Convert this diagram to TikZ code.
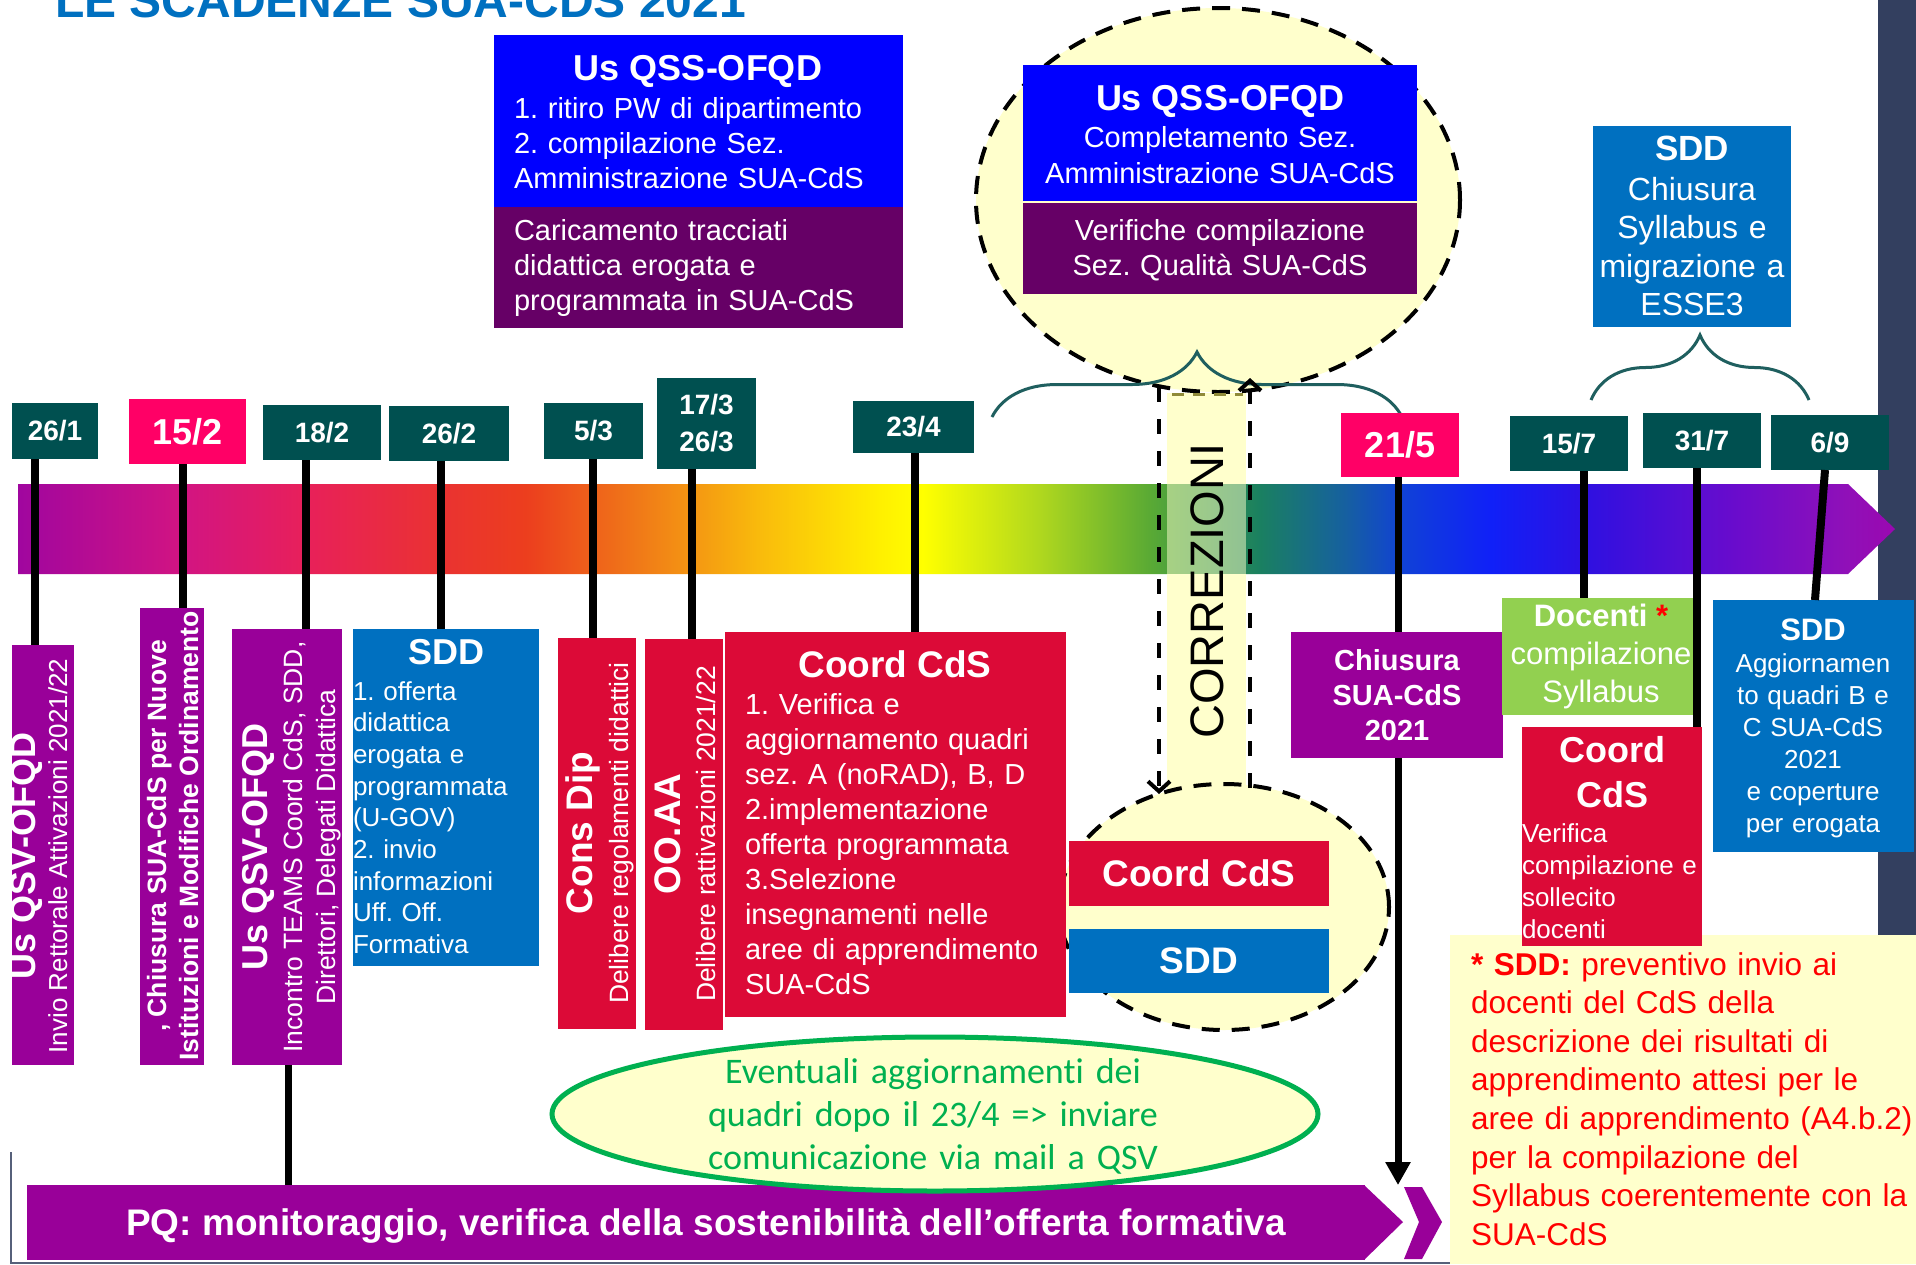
\documentclass[tikz,border=0pt]{standalone}
\usepackage{fontspec}
\setmainfont{Liberation Sans}
\newfontfamily\calfont[Ligatures=NoCommon]{Carlito}
\usetikzlibrary{decorations.pathreplacing,arrows.meta,shapes.geometric}
\newcommand\setfz[2]{\fontsize{#1pt}{#2pt}\selectfont}
\frenchspacing
\definecolor{qblue}{HTML}{0000FF}
\definecolor{qpurp}{HTML}{660066}
\definecolor{sddblue}{HTML}{0070C0}
\definecolor{dteal}{HTML}{005050}
\definecolor{hotpink}{HTML}{FF0066}
\definecolor{vpurp}{HTML}{990099}
\definecolor{crim}{HTML}{DC0A37}
\definecolor{lgreen}{HTML}{92D050}
\definecolor{pyellow}{HTML}{FFFFCC}
\definecolor{navy}{HTML}{333F5F}
\definecolor{braceteal}{HTML}{1F5F5F}
\definecolor{egreen}{HTML}{00B050}
\definecolor{titleblue}{HTML}{0070C0}
\definecolor{slateline}{HTML}{56607A}
\definecolor{g0}{HTML}{A0069F}
\definecolor{g1}{HTML}{D21482}
\definecolor{g2}{HTML}{E8205A}
\definecolor{g3}{HTML}{EA3232}
\definecolor{g4}{HTML}{EC3E1E}
\definecolor{g5}{HTML}{F07818}
\definecolor{g6}{HTML}{F9BA0C}
\definecolor{g7}{HTML}{FFF000}
\definecolor{g8}{HTML}{FFFF00}
\definecolor{g9}{HTML}{B0D81E}
\definecolor{g10}{HTML}{5AAA34}
\definecolor{g11}{HTML}{1A8060}
\definecolor{g12}{HTML}{1660A0}
\definecolor{g13}{HTML}{1040D8}
\definecolor{g14}{HTML}{1020F8}
\definecolor{g15}{HTML}{3010E0}
\definecolor{g16}{HTML}{6A0CCC}
\definecolor{g17}{HTML}{9010B8}
\definecolor{g18}{HTML}{9A08B0}
\pgfdeclarehorizontalshading{rainbowbar}{100bp}{color(0bp)=(g0); color(25bp)=(g0); color(29.40bp)=(g1); color(32.67bp)=(g2); color(36.24bp)=(g3); color(38.53bp)=(g4); color(41.46bp)=(g5); color(44.71bp)=(g6); color(47.96bp)=(g7); color(49.11bp)=(g8); color(52.20bp)=(g9); color(55.13bp)=(g10); color(58.06bp)=(g11); color(60.35bp)=(g12); color(61.97bp)=(g13); color(64.24bp)=(g14); color(66.85bp)=(g15); color(70.77bp)=(g16); color(73.70bp)=(g17); color(75bp)=(g18); color(100bp)=(g18)}
\begin{document}
\begin{tikzpicture}[x=1pt,y=-1pt,
  rbox/.style={inner sep=0pt, outer sep=0pt, anchor=north west},
  wtxt/.style={inner sep=0pt, outer sep=0pt, text=white},
  vtxt/.style={wtxt, rotate=90, anchor=base},
  stem/.style={line width=8pt, draw=black},
  dline/.style={line width=4pt, dash pattern=on 15pt off 17pt},
  bracest/.style={draw=braceteal, line width=3pt, decorate, decoration={brace, amplitude=65pt}},
  dbox/.style={rbox, fill=dteal, text=white, font=\bfseries\setfz{28}{37}, align=center},
  dashell/.style={ellipse, draw=black, line width=4pt, dash pattern=on 18pt off 12pt, fill=pyellow, inner sep=0pt}
]
\useasboundingbox (0,0) rectangle (1916,1264);
\clip (0,0) rectangle (1916,1264);
\fill[white] (0,0) rectangle (1916,1264);

% title
\node[anchor=base west, inner sep=0pt, text=titleblue, font=\bfseries\setfz{48}{48}] (title) at (55,17) {LE SCADENZE SUA-CDS 2021};

% navy strip
\fill[navy] (1878,0) rectangle (1916,935);

% timeline bar
\shade[shading=rainbowbar] (18,484) -- (1848,484) -- (1895,529) -- (1848,574) -- (18,574) -- cycle;

% CORREZIONI strip
\fill[pyellow] (1167,393) rectangle (1246,484);
\fill[pyellow, fill opacity=0.5] (1167,484) rectangle (1246,574);
\fill[pyellow] (1167,574) rectangle (1246,790);

% top left box
\node[rbox, fill=qblue, minimum width=409pt, minimum height=172pt] (tb1) at (494,35) {};
\node[rbox, fill=qpurp, minimum width=409pt, minimum height=121pt] (tb2) at (494,207) {};
\node[wtxt, anchor=base, font=\bfseries\setfz{36}{36}] (tb1h) at (698,80) {Us QSS-OFQD};
\node[wtxt, anchor=base west, text width=385pt, align=left, font=\setfz{29}{35}] (tb1t) at (514,118) {1. ritiro PW di dipartimento\\2. compilazione Sez.\\Amministrazione SUA-CdS};
\node[wtxt, anchor=base west, text width=385pt, align=left, font=\setfz{29}{35}] (tb2t) at (514,240) {Caricamento tracciati\\didattica erogata e\\programmata in SUA-CdS};

% top ellipse
\node[dashell, minimum width=484pt, minimum height=384pt] (e1) at (1218,200) {};
\node[rbox, fill=qblue, minimum width=394pt, minimum height=136pt] (mb1) at (1023,65) {};
\node[rbox, fill=qpurp, minimum width=394pt, minimum height=91pt] (mb2) at (1023,203) {};
\node[wtxt, anchor=base, font=\bfseries\setfz{36}{36}] (mb1h) at (1220,110) {Us QSS-OFQD};
\node[wtxt, anchor=base, text width=390pt, align=center, font=\setfz{29}{36}] (mb1t) at (1220,147) {Completamento Sez.\\Amministrazione SUA-CdS};
\node[wtxt, anchor=base, text width=390pt, align=center, font=\setfz{29}{35}] (mb2t) at (1220,240) {Verifiche compilazione\\Sez. Qualità SUA-CdS};

% braces
\draw[bracest] (992,417) -- (1402,417);
\draw[bracest] (1591,400) -- (1809,400);

% SDD top right
\node[rbox, fill=sddblue, minimum width=198pt, minimum height=201pt] (sddT) at (1593,126) {};
\node[wtxt, anchor=base, font=\bfseries\setfz{35}{35}] (sddTh) at (1692,160) {SDD};
\node[wtxt, anchor=base, text width=198pt, align=center, font=\setfz{32}{38.5}] (sddTt) at (1692,200) {Chiusura\\Syllabus e\\migrazione a\\ESSE3};

% PQ bar
\node[rbox, fill=vpurp, minimum width=1338pt, minimum height=75pt] (pqbar) at (27,1185) {};
\fill[vpurp] (1364,1185) -- (1403,1222) -- (1364,1260) -- cycle;
\fill[vpurp] (1404,1187) -- (1422,1187) -- (1442,1222) -- (1422,1259) -- (1404,1259) -- (1419,1222) -- cycle;
\node[wtxt, anchor=base, font=\bfseries\setfz{37}{37}] (pqt) at (706,1235) {PQ: monitoraggio, verifica della sostenibilità dell’offerta formativa};

% date boxes
\node[dbox, minimum width=86pt, minimum height=56pt] (d261) at (12,403) {26/1};
\node[dbox, fill=hotpink, font=\bfseries\setfz{36}{36}, minimum width=117pt, minimum height=65pt] (d152) at (129,399) {15/2};
\node[dbox, minimum width=118pt, minimum height=55pt] (d182) at (263,405) {18/2};
\node[dbox, minimum width=120pt, minimum height=55pt] (d262) at (389,406) {26/2};
\node[dbox, minimum width=99pt, minimum height=56pt] (d53) at (544,403) {5/3};
\node[dbox, minimum width=99pt, minimum height=91pt] (d173) at (657,378) {17/3\\26/3};
\node[dbox, minimum width=121pt, minimum height=52pt] (d234) at (853,401) {23/4};
\node[dbox, fill=hotpink, font=\bfseries\setfz{36}{36}, minimum width=118pt, minimum height=64pt] (d215) at (1341,413) {21/5};
\node[dbox, minimum width=118pt, minimum height=55pt] (d157) at (1510,416) {15/7};
\node[dbox, minimum width=118pt, minimum height=55pt] (d317) at (1643,413) {31/7};
\node[dbox, minimum width=118pt, minimum height=55pt] (d69) at (1771,415) {6/9};

% bottom ellipse with boxes
\node[dashell, minimum width=330pt, minimum height=246pt] (e2) at (1224,907) {};
\node[rbox, fill=crim, minimum width=260pt, minimum height=65pt, text=white, font=\bfseries\setfz{37}{37}] (cc2) at (1069,841) {Coord CdS};
\node[rbox, fill=sddblue, minimum width=260pt, minimum height=64pt, text=white, font=\bfseries\setfz{37}{37}] (sdd2) at (1069,929) {SDD};

% CORREZIONI connectors
\coordinate (cTopL) at (1159,387);
\coordinate (cBotL) at (1159,794);
\coordinate (cTopR) at (1250,378);
\coordinate (cBotR) at (1250,788);
\draw[line width=3pt, draw=olive!60!gray, dash pattern=on 12pt off 9pt] (1172,394) -- (1243,394);
\draw[dline, -{Straight Barb[length=10pt,width=22pt,line width=4pt]}] (cTopL) -- (cBotL);
\draw[dline, -{Straight Barb[length=10pt,width=22pt,line width=4pt]}] (cBotR) -- (cTopR);
\node[rotate=90, anchor=base, inner sep=0pt, font=\setfz{47}{47}] (corr) at (1223,591) {CORREZIONI};

% 21/5 long arrow
\draw[line width=7pt, -{Triangle[length=23pt,width=24pt]}] (d215.south -| 1398,0) -- (pqbar.north -| 1398,0);

% yellow note box
\node[rbox, fill=pyellow, minimum width=466pt, minimum height=329pt] (note) at (1450,935) {};

% activity boxes
\node[rbox, fill=vpurp, minimum width=62pt, minimum height=420pt] (b1) at (12,645) {};
\node[vtxt, font=\bfseries\setfz{36}{36}] (b1h) at (35,856) {Us QSV-OFQD};
\node[vtxt, font=\setfz{26}{26}] (b1t) at (67,856) {Invio Rettorale Attivazioni 2021/22};

\node[rbox, fill=vpurp, minimum width=64pt, minimum height=457pt] (b2) at (140,608) {};
\node[vtxt, font=\bfseries\setfz{26.5}{26.5}] (b2a) at (166,836) {, Chiusura SUA-CdS per Nuove};
\node[vtxt, font=\bfseries\setfz{26.5}{26.5}] (b2b) at (198,836) {Istituzioni e Modifiche Ordinamento};

\node[rbox, fill=vpurp, minimum width=110pt, minimum height=436pt] (b3) at (232,629) {};
\node[vtxt, font=\bfseries\setfz{36}{36}] (b3h) at (267,847) {Us QSV-OFQD};
\node[vtxt, font=\setfz{26.5}{26.5}] (b3a) at (302,847) {Incontro TEAMS Coord CdS, SDD,};
\node[vtxt, font=\setfz{26.5}{26.5}] (b3b) at (335,847) {Direttori, Delegati Didattica};

\node[rbox, fill=sddblue, minimum width=186pt, minimum height=337pt] (sddL) at (353,629) {};
\node[wtxt, anchor=base, font=\bfseries\setfz{36}{36}] (sddLh) at (446,664) {SDD};
\node[wtxt, anchor=base west, text width=200pt, align=left, font=\setfz{26}{31.7}] (sddLt) at (353,700) {1. offerta\\didattica\\erogata e\\programmata\\(U-GOV)\\2. invio\\informazioni\\Uff. Off.\\Formativa};

\node[rbox, fill=crim, minimum width=78pt, minimum height=391pt] (cons) at (558,638) {};
\node[vtxt, font=\bfseries\setfz{37}{37}] (consh) at (592,833) {Cons Dip};
\node[vtxt, font=\setfz{26.5}{26.5}] (const) at (628,833) {Delibere regolamenti didattici};

\node[rbox, fill=crim, minimum width=78pt, minimum height=391pt] (ooaa) at (645,639) {};
\node[vtxt, font=\bfseries\setfz{37}{37}] (ooaah) at (680,834) {OO.AA};
\node[vtxt, font=\setfz{26.5}{26.5}] (ooaat) at (715,834) {Delibere rattivazioni 2021/22};

\node[rbox, fill=crim, minimum width=341pt, minimum height=385pt] (coordA) at (725,632) {};
\node[wtxt, anchor=base, font=\bfseries\setfz{37}{37}] (coordAh) at (895,677) {Coord CdS};
\node[wtxt, anchor=base west, text width=320pt, align=left, font=\setfz{29}{35.1}] (coordAt) at (745,714) {1. Verifica e\\aggiornamento quadri\\sez. A (noRAD), B, D\\2.implementazione\\offerta programmata\\3.Selezione\\insegnamenti nelle\\aree di apprendimento\\SUA-CdS};

\node[rbox, fill=vpurp, minimum width=212pt, minimum height=126pt, text=white, align=center, font=\bfseries\setfz{29}{35}] (chi) at (1291,632) {Chiusura\\SUA-CdS\\2021};

\node[rbox, fill=lgreen, minimum width=198pt, minimum height=117pt, text=white, align=center, font=\setfz{31}{38}] (doc) at (1502,598) {{\bfseries Docenti \textcolor{red}{*}}\\compilazione\\Syllabus};

\node[rbox, fill=crim, minimum width=180pt, minimum height=219pt] (coordB) at (1522,727) {};
\node[wtxt, anchor=base, text width=180pt, align=center, font=\bfseries\setfz{36}{45}] (coordBh) at (1612,762) {Coord\\CdS};
\node[wtxt, anchor=base west, text width=220pt, align=left, font=\setfz{26}{32.3}] (coordBt) at (1522,842) {Verifica\\compilazione e\\sollecito\\docenti};

\node[rbox, fill=sddblue, minimum width=201pt, minimum height=252pt] (sddR) at (1713,600) {};
\node[wtxt, anchor=base, font=\bfseries\setfz{31}{31}] (sddRh) at (1813,640) {SDD};
\node[wtxt, anchor=base, text width=201pt, align=center, font=\setfz{26}{32}] (sddRt) at (1813,672) {Aggiornamen\\to quadri B e\\C SUA-CdS\\2021\\e coperture\\per erogata};

% stems
\draw[stem] (d261.south -| 35,0) -- (b1.north -| 35,0);
\draw[stem] (d152.south -| 183,0) -- (b2.north -| 183,0);
\draw[stem] (d182.south -| 306,0) -- (b3.north -| 306,0);
\draw[stem] (d262.south -| 441,0) -- (sddL.north -| 441,0);
\draw[stem] (d53.south -| 593,0) -- (cons.north -| 593,0);
\draw[stem] (d173.south -| 692,0) -- (ooaa.north -| 692,0);
\draw[stem] (d234.south -| 915,0) -- (coordA.north -| 915,0);
\draw[stem] (d157.south -| 1584,0) -- (doc.north -| 1584,0);
\draw[stem] (d317.south -| 1697,0) -- (coordB.north -| 1697,0);
\draw[stem] (d69.south -| 1825,0) -- (sddR.north -| 1815,0);
\draw[stem, line width=7pt] (b3.south -| 288,0) -- (pqbar.north -| 288,0);

% green ellipse
\node[ellipse, draw=egreen, line width=5pt, fill=pyellow, minimum width=766pt, minimum height=154pt, inner sep=0pt] (e3) at (935,1114) {};
\node[inner sep=0pt, anchor=base, text=egreen, text width=700pt, align=center, font=\calfont\setfz{36}{43}] (e3t) at (933,1083) {Eventuali aggiornamenti dei\\quadri dopo il 23/4 => inviare\\comunicazione via mail a QSV};

% note text
\node[inner sep=0pt, anchor=base west, text=red, text width=470pt, align=left, font=\setfz{31.5}{38.6}] (notet) at (1471,975) {{\bfseries * SDD:} preventivo invio ai\\docenti del CdS della\\descrizione dei risultati di\\apprendimento attesi per le\\aree di apprendimento (A4.b.2)\\per la compilazione del\\Syllabus coerentemente con la\\SUA-CdS};

% slide border lines
\draw[line width=2pt, draw=slateline] (11,1152) -- (11,1263) -- (1450,1263);
\end{tikzpicture}
\end{document}
